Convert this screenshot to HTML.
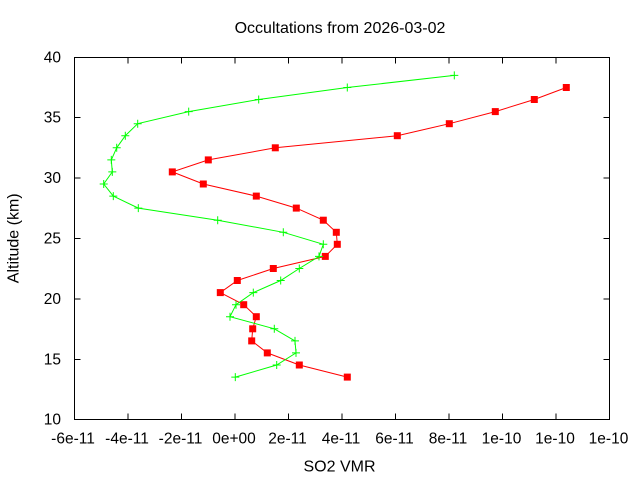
<!DOCTYPE html>
<html><head><meta charset="utf-8"><style>
html,body{margin:0;padding:0;background:#fff;}
svg{display:block;}
text{font-family:"Liberation Sans",Arial,sans-serif;fill:#000;}
</style></head><body>
<svg width="640" height="480" viewBox="0 0 640 480" xmlns="http://www.w3.org/2000/svg">
<rect width="640" height="480" fill="#fff"/>
<text x="340" y="33" font-size="16" text-anchor="middle">Occultations from 2026-03-02</text>
<g stroke="#000" stroke-width="1" fill="none">
<rect x="74.5" y="57.5" width="535" height="362"/>
<path d="M128 419.5v-6M181.5 419.5v-6M235 419.5v-6M288.5 419.5v-6M342 419.5v-6M395.5 419.5v-6M449 419.5v-6M502.5 419.5v-6M556 419.5v-6
M128 57.5v6M181.5 57.5v6M235 57.5v6M288.5 57.5v6M342 57.5v6M395.5 57.5v6M449 57.5v6M502.5 57.5v6M556 57.5v6
M74.5 359.5h6M74.5 299h6M74.5 238.5h6M74.5 178h6M74.5 117.5h6
M609.5 359.5h-6M609.5 299h-6M609.5 238.5h-6M609.5 178h-6M609.5 117.5h-6"/>
</g>
<g font-size="15.5" text-anchor="end">
<text x="61" y="424.5">10</text>
<text x="61" y="364.3">15</text>
<text x="61" y="303.8">20</text>
<text x="61" y="243.3">25</text>
<text x="61" y="182.8">30</text>
<text x="61" y="122.3">35</text>
<text x="61" y="62.3">40</text>
</g>
<g font-size="15.5" text-anchor="middle">
<text x="73" y="443.5">-6e-11</text>
<text x="127" y="443.5">-4e-11</text>
<text x="180.5" y="443.5">-2e-11</text>
<text x="234" y="443.5">0e+00</text>
<text x="287.5" y="443.5">2e-11</text>
<text x="341" y="443.5">4e-11</text>
<text x="394.5" y="443.5">6e-11</text>
<text x="448" y="443.5">8e-11</text>
<text x="501.5" y="443.5">1e-10</text>
<text x="555" y="443.5">1e-10</text>
<text x="608.5" y="443.5">1e-10</text>
</g>
<text x="339.5" y="471.5" font-size="16" text-anchor="middle">SO2 VMR</text>
<text transform="translate(18.5,238.3) rotate(-90)" font-size="16" text-anchor="middle">Altitude (km)</text>

<!-- red series -->
<polyline fill="none" stroke="#ff0000" stroke-width="1" points="347.3,377.1 299.3,365.0 267.3,352.9 251.7,340.9 252.7,328.8 256.3,316.7 243.7,304.7 220.3,292.6 237.3,280.5 273.3,268.5 325.3,256.4 337.3,244.3 336.3,232.3 323.3,220.2 296.3,208.1 256.3,196.1 203.3,184.0 172.3,171.9 208.3,159.9 275.3,147.8 397.3,135.7 449.3,123.7 495.3,111.6 534.3,99.5 566.3,87.5"/>
<g fill="#ff0000">
<rect x="343.8" y="373.6" width="7" height="7"/>
<rect x="295.8" y="361.5" width="7" height="7"/>
<rect x="263.8" y="349.4" width="7" height="7"/>
<rect x="248.2" y="337.4" width="7" height="7"/>
<rect x="249.2" y="325.3" width="7" height="7"/>
<rect x="252.8" y="313.2" width="7" height="7"/>
<rect x="240.2" y="301.2" width="7" height="7"/>
<rect x="216.8" y="289.1" width="7" height="7"/>
<rect x="233.8" y="277.0" width="7" height="7"/>
<rect x="269.8" y="265.0" width="7" height="7"/>
<rect x="321.8" y="252.9" width="7" height="7"/>
<rect x="333.8" y="240.8" width="7" height="7"/>
<rect x="332.8" y="228.8" width="7" height="7"/>
<rect x="319.8" y="216.7" width="7" height="7"/>
<rect x="292.8" y="204.6" width="7" height="7"/>
<rect x="252.8" y="192.6" width="7" height="7"/>
<rect x="199.8" y="180.5" width="7" height="7"/>
<rect x="168.8" y="168.4" width="7" height="7"/>
<rect x="204.8" y="156.4" width="7" height="7"/>
<rect x="271.8" y="144.3" width="7" height="7"/>
<rect x="393.8" y="132.2" width="7" height="7"/>
<rect x="445.8" y="120.2" width="7" height="7"/>
<rect x="491.8" y="108.1" width="7" height="7"/>
<rect x="530.8" y="96.0" width="7" height="7"/>
<rect x="562.8" y="84.0" width="7" height="7"/>
</g>

<!-- green series -->
<polyline fill="none" stroke="#00ff00" stroke-width="1" points="235.3,377.1 276.7,365.0 296,352.9 295,340.9 274.3,328.8 230,316.7 236,304.7 253.3,292.6 280.7,280.5 299.3,268.5 319,256.4 323.3,244.3 283.3,232.3 217.7,220.2 138.3,208.1 113.3,196.1 103.7,184.0 112.3,171.9 111.3,159.9 116.7,147.8 125.3,135.7 137.7,123.7 188.7,111.6 258.7,99.5 347.3,87.5 454.3,75.4"/>
<path fill="none" stroke="#00ff00" stroke-width="1" d="
M231.3 377.1h8M235.3 373.1v8
M272.7 365.0h8M276.7 361.0v8
M292 352.9h8M296 348.9v8
M291 340.9h8M295 336.9v8
M270.3 328.8h8M274.3 324.8v8
M226 316.7h8M230 312.7v8
M232 304.7h8M236 300.7v8
M249.3 292.6h8M253.3 288.6v8
M276.7 280.5h8M280.7 276.5v8
M295.3 268.5h8M299.3 264.5v8
M315 256.4h8M319 252.4v8
M319.3 244.3h8M323.3 240.3v8
M279.3 232.3h8M283.3 228.3v8
M213.7 220.2h8M217.7 216.2v8
M134.3 208.1h8M138.3 204.1v8
M109.3 196.1h8M113.3 192.1v8
M99.7 184.0h8M103.7 180.0v8
M108.3 171.9h8M112.3 167.9v8
M107.3 159.9h8M111.3 155.9v8
M112.7 147.8h8M116.7 143.8v8
M121.3 135.7h8M125.3 131.7v8
M133.7 123.7h8M137.7 119.7v8
M184.7 111.6h8M188.7 107.6v8
M254.7 99.5h8M258.7 95.5v8
M343.3 87.5h8M347.3 83.5v8
M450.3 75.4h8M454.3 71.4v8"/>
</svg>
</body></html>
